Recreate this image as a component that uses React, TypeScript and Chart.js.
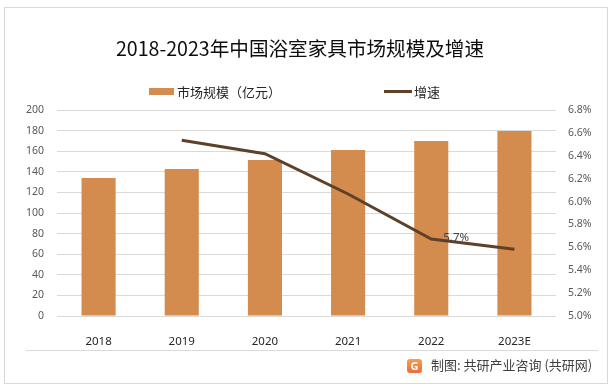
import React, { useEffect, useRef } from "react";
import { Chart, registerables } from "chart.js";

Chart.register(...registerables);

const categories = ["2018", "2019", "2020", "2021", "2022", "2023E"];
const marketSize = [134, 142.7, 151.5, 161.2, 169.9, 179.6];
const growthRate = [null, 6.535, 6.418, 6.066, 5.673, 5.583];
const labeledPointIndex = 4;
const labeledPointText = "5.7%";
const leftTicks = [0, 20, 40, 60, 80, 100, 120, 140, 160, 180, 200];
const rightTicks = [5.0, 5.2, 5.4, 5.6, 5.8, 6.0, 6.2, 6.4, 6.6, 6.8];

const titleText = "2018-2023年中国浴室家具市场规模及增速";
const barLegend = "市场规模（亿元）";
const lineLegend = "增速";
const sourceText = "制图: 共研产业咨询 (共研网)";

const FONT = '"Noto Sans", "Noto Sans CJK SC", sans-serif';
const CJK = '"Noto Sans CJK SC", "Noto Sans", sans-serif';
const BAR_COLOR = "#D48B4E";
const LINE_COLOR = "#5E4128";

const pointLabelPlugin = {
  id: "pointLabel",
  afterDatasetsDraw(chart: any) {
    const meta = chart.getDatasetMeta(1);
    const pt = meta.data[labeledPointIndex];
    if (!pt) return;
    const ctx = chart.ctx;
    ctx.save();
    ctx.font = `11.5px ${FONT}`;
    ctx.fillStyle = "#404040";
    ctx.textAlign = "left";
    ctx.textBaseline = "middle";
    ctx.fillText(labeledPointText, pt.x + 12, pt.y - 1);
    ctx.restore();
  },
};

export default function App() {
  const ref = useRef<HTMLCanvasElement | null>(null);

  useEffect(() => {
    if (!ref.current) return;
    const chart = new Chart(ref.current, {
      type: "bar",
      data: {
        labels: categories,
        datasets: [
          {
            type: "bar",
            label: barLegend,
            data: marketSize,
            backgroundColor: BAR_COLOR,
            borderWidth: 0,
            barPercentage: 0.41,
            categoryPercentage: 1,
            yAxisID: "y",
            order: 2,
          },
          {
            type: "line",
            label: lineLegend,
            data: growthRate as any,
            borderColor: LINE_COLOR,
            backgroundColor: LINE_COLOR,
            borderWidth: 3,
            pointRadius: 0,
            tension: 0,
            yAxisID: "y1",
            order: 1,
          },
        ],
      },
      options: {
        animation: false,
        responsive: false,
        maintainAspectRatio: false,
        devicePixelRatio: 1,
        layout: { padding: { top: 110, left: 0, right: 0, bottom: 0 } },
        plugins: {
          legend: { display: false },
          title: { display: false },
          tooltip: { enabled: false },
        },
        scales: {
          x: {
            grid: { display: false },
            border: { display: false },
            ticks: {
              font: { family: FONT, size: 11.5 },
              color: "#262626",
              padding: 11,
              maxRotation: 0,
            },
            afterFit(scale: any) {
              scale.height = 74;
            },
          },
          y: {
            position: "left",
            min: 0,
            max: 200,
            afterBuildTicks(scale: any) {
              scale.ticks = leftTicks.map((v) => ({ value: v }));
            },
            grid: { color: "#D9D9D9", lineWidth: 1, drawTicks: false },
            border: { display: false },
            ticks: {
              font: { family: FONT, size: 10.5 },
              color: "#595959",
              padding: 13,
            },
            afterFit(scale: any) {
              scale.width = 57;
            },
          },
          y1: {
            position: "right",
            min: 5.0,
            max: 6.8,
            afterBuildTicks(scale: any) {
              scale.ticks = rightTicks.map((v) => ({ value: v }));
            },
            grid: { display: false, drawTicks: false },
            border: { display: false },
            ticks: {
              font: { family: FONT, size: 10.5 },
              color: "#595959",
              padding: 12,
              callback: (v: any) => Number(v).toFixed(1) + "%",
            },
            afterFit(scale: any) {
              scale.width = 59;
            },
          },
        },
      },
      plugins: [pointLabelPlugin],
    });
    return () => chart.destroy();
  }, []);

  return (
    <div
      style={{
        position: "fixed",
        left: 0,
        top: 0,
        width: 615,
        height: 390,
        background: "#fff",
        overflow: "hidden",
      }}
    >
      <div
        style={{
          position: "absolute",
          left: 4,
          top: 7,
          width: 604,
          height: 377,
          border: "1px solid #D9D9D9",
          boxSizing: "border-box",
        }}
      />
      <canvas
        ref={ref}
        width={615}
        height={390}
        style={{ position: "absolute", left: 0, top: 0, width: 615, height: 390 }}
      />
      <div
        style={{
          position: "absolute",
          left: 0,
          top: 35,
          width: 600,
          textAlign: "center",
          fontFamily: CJK,
          fontSize: 19.6,
          lineHeight: "26px",
          color: "#0D0D0D",
          whiteSpace: "nowrap",
        }}
      >
        {titleText}
      </div>
      <div
        style={{
          position: "absolute",
          left: 149,
          top: 88,
          width: 25,
          height: 7,
          background: BAR_COLOR,
        }}
      />
      <div
        style={{
          position: "absolute",
          left: 177,
          top: 83,
          fontFamily: CJK,
          fontSize: 13,
          lineHeight: "18px",
          color: "#262626",
          whiteSpace: "nowrap",
        }}
      >
        {barLegend}
      </div>
      <div
        style={{
          position: "absolute",
          left: 384,
          top: 90,
          width: 28,
          height: 3,
          background: LINE_COLOR,
        }}
      />
      <div
        style={{
          position: "absolute",
          left: 414,
          top: 83,
          fontFamily: CJK,
          fontSize: 13,
          lineHeight: "18px",
          color: "#262626",
          whiteSpace: "nowrap",
        }}
      >
        {lineLegend}
      </div>
      <div
        style={{
          position: "absolute",
          left: 26,
          top: 350,
          width: 572,
          height: 1,
          background: "#D9D9D9",
        }}
      />
      <div
        style={{
          position: "absolute",
          left: 407,
          top: 359,
          width: 15,
          height: 14,
          borderRadius: 3,
          background: "linear-gradient(180deg, #F7A04B 0%, #EE6A3A 100%)",
          color: "#fff",
          fontFamily: FONT,
          fontWeight: 700,
          fontSize: 11,
          lineHeight: "14px",
          textAlign: "center",
        }}
      >
        G
      </div>
      <div
        style={{
          position: "absolute",
          left: 431,
          top: 356,
          fontFamily: CJK,
          fontSize: 13,
          lineHeight: "18px",
          color: "#404040",
          whiteSpace: "nowrap",
        }}
      >
        {sourceText}
      </div>
    </div>
  );
}
